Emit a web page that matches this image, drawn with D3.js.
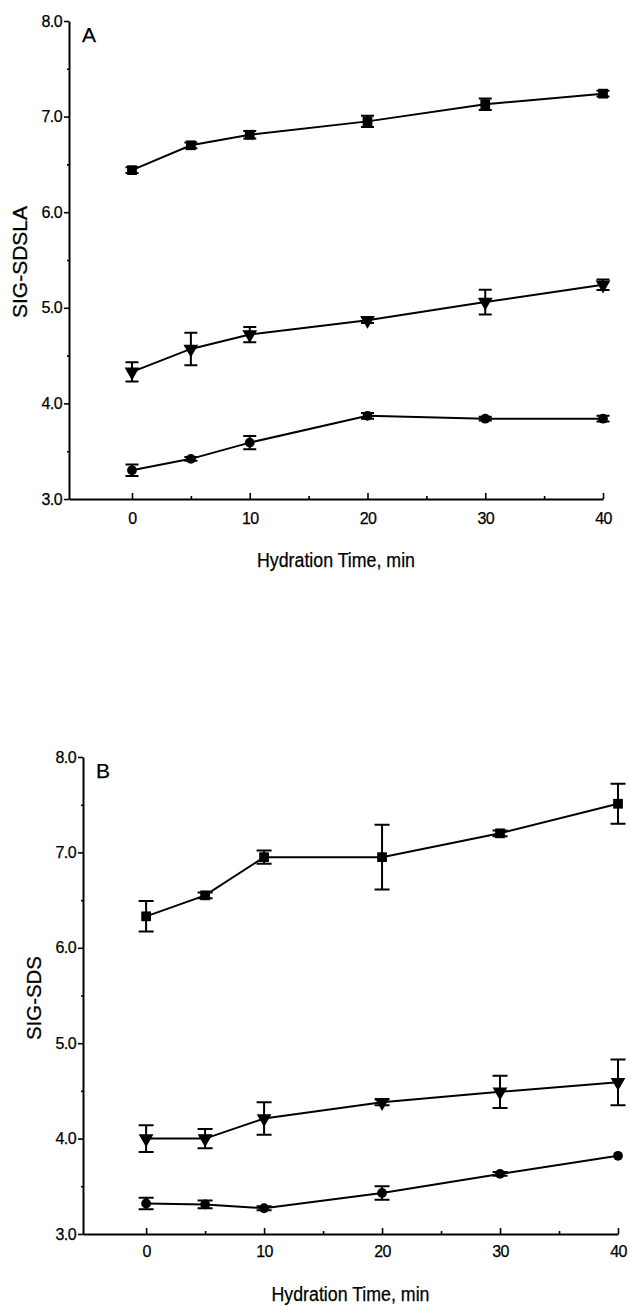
<!DOCTYPE html>
<html>
<head>
  <meta charset="utf-8">
  <title>Hydration time</title>
  <style type="text/css">
    body { margin: 0; background-color: #fff; }
    svg { display: block; }
    text { font-family: "Liberation Sans", Arial, sans-serif; fill: #000; stroke: #000; stroke-width: 0.25; }
    .axis path, .axis line { stroke: #000; }
    .axis path { stroke-width: 2; }
    .axis line { stroke-width: 1.6; }
    .axis text { font-size: 16px; letter-spacing: -0.6px; }
  </style>
  <script src="https://d3js.org/d3.v7.min.js"></script>
</head>
<body>
<script>
var times = [0, 5, 10, 20, 30, 40];
var xTicks = [0, 10, 20, 30, 40];
var xMinor = [5, 15, 25, 35];
var yTicks = [3, 4, 5, 6, 7, 8];
var yMinor = [3.5, 4.5, 5.5, 6.5, 7.5];

// panel A, SIG-SDSLA
var aSquare = [6.44, 6.70, 6.81, 6.95, 7.13, 7.24];
var aSquareErr = [0.03, 0.03, 0.04, 0.06, 0.06, 0.03];
var aTri = [4.33, 4.57, 4.72, 4.87, 5.06, 5.24];
var aTriErr = [0.10, 0.17, 0.08, 0.03, 0.13, 0.055];
var aCirc = [3.30, 3.42, 3.59, 3.87, 3.84, 3.84];
var aCircErr = [0.06, 0.02, 0.07, 0.03, 0.02, 0.03];

// panel B, SIG-SDS
var bSquare = [6.33, 6.55, 6.95, 6.95, 7.20, 7.51];
var bSquareErr = [0.16, 0.03, 0.07, 0.34, 0.03, 0.21];
var bTri = [4.00, 4.00, 4.21, 4.38, 4.49, 4.59];
var bTriErr = [0.14, 0.10, 0.17, 0.03, 0.17, 0.24];
var bCirc = [3.32, 3.31, 3.27, 3.43, 3.63, 3.82];
var bCircErr = [0.06, 0.04, 0.02, 0.07, 0.02, 0];

var svg = d3.select("body").append("svg")
    .attr("width", 631)
    .attr("height", 1308);

function panel(p) {
  var x = d3.scaleLinear().domain([-5.35, 40]).range([p.left, p.right]);
  var y = d3.scaleLinear().domain([3, 8]).range([p.bottom, p.top]);
  var g = svg.append("g");

  // x axis, ticks pointing up into the plot
  g.append("g")
      .attr("class", "axis")
      .attr("transform", "translate(0," + p.bottom + ")")
      .call(d3.axisBottom(x).tickValues(xTicks).tickSize(-6).tickSizeOuter(0)
        .tickPadding(p.xPad).tickFormat(d3.format("d")));
  g.append("g")
      .attr("class", "axis")
      .attr("transform", "translate(0," + p.bottom + ")")
      .call(d3.axisBottom(x).tickValues(xMinor).tickSize(-3).tickSizeOuter(0).tickFormat(""))
      .select(".domain").remove();

  g.append("g")
      .attr("class", "axis")
      .attr("transform", "translate(" + p.left + ",0)")
      .call(d3.axisLeft(y).tickValues(yTicks).tickSize(5).tickSizeOuter(0)
        .tickPadding(2).tickFormat(d3.format(".1f")));
  g.append("g")
      .attr("class", "axis")
      .attr("transform", "translate(" + p.left + ",0)")
      .call(d3.axisLeft(y).tickValues(yMinor).tickSize(2).tickSizeOuter(0).tickFormat(""))
      .select(".domain").remove();

  g.append("text")
      .attr("x", p.left + 13)
      .attr("y", y(8) + 21)
      .style("font-size", "21px")
      .text(p.letter);

  g.append("text")
      .attr("x", (p.left + p.right) / 2)
      .attr("y", p.xTitleY)
      .attr("text-anchor", "middle")
      .attr("textLength", 158)
      .attr("lengthAdjust", "spacingAndGlyphs")
      .style("font-size", "20px")
      .text("Hydration Time, min");

  g.append("text")
      .attr("transform", "translate(" + (p.left - 42) + "," + p.yTitleY + ") rotate(-90)")
      .attr("text-anchor", "middle")
      .attr("textLength", p.yTitleLen)
      .attr("lengthAdjust", "spacingAndGlyphs")
      .style("font-size", "20px")
      .text(p.yTitle);

  var line = d3.line()
      .x(function(d, i) { return x(times[i]); })
      .y(function(d) { return y(d); });

  p.series.forEach(function(s) {
    g.append("path")
        .datum(s.values)
        .attr("d", line)
        .attr("fill", "none")
        .attr("stroke", "#000")
        .attr("stroke-width", 2);

    var pts = g.selectAll(null)
        .data(s.values.map(function(v, i) { return {t: times[i], v: v, e: s.err[i]}; }))
        .enter().append("g");

    pts.filter(function(d) { return d.e > 0; }).append("path")
        .attr("d", function(d) {
          var cx = x(d.t), y0 = y(d.v - d.e), y1 = y(d.v + d.e), w = p.cap;
          return "M" + cx + "," + y0 + "V" + y1 +
                 "M" + (cx - w) + "," + y0 + "H" + (cx + w) +
                 "M" + (cx - w) + "," + y1 + "H" + (cx + w);
        })
        .attr("fill", "none")
        .attr("stroke", "#000")
        .attr("stroke-width", 2);

    pts.append("path")
        .attr("d", d3.symbol().type(s.shape).size(s.size))
        .attr("transform", function(d) {
          return "translate(" + x(d.t) + "," + y(d.v) + ")" + (s.flip ? " rotate(180)" : "");
        })
        .attr("fill", "#000");
  });
}

panel({
  left: 69, right: 603, top: 21, bottom: 499,
  xPad: 14, xTitleY: 567, letter: "A",
  yTitle: "SIG-SDSLA", yTitleY: 262, yTitleLen: 112, cap: 6.5,
  series: [
    {values: aSquare, err: aSquareErr, shape: d3.symbolSquare, size: 95},
    {values: aTri, err: aTriErr, shape: d3.symbolTriangle, size: 95, flip: true},
    {values: aCirc, err: aCircErr, shape: d3.symbolCircle, size: 75}
  ]
});

panel({
  left: 83, right: 618, top: 757, bottom: 1234,
  xPad: 12, xTitleY: 1301, letter: "B",
  yTitle: "SIG-SDS", yTitleY: 998, yTitleLen: 84, cap: 7.5,
  series: [
    {values: bSquare, err: bSquareErr, shape: d3.symbolSquare, size: 95},
    {values: bTri, err: bTriErr, shape: d3.symbolTriangle, size: 95, flip: true},
    {values: bCirc, err: bCircErr, shape: d3.symbolCircle, size: 75}
  ]
});
</script>
</body>
</html>
